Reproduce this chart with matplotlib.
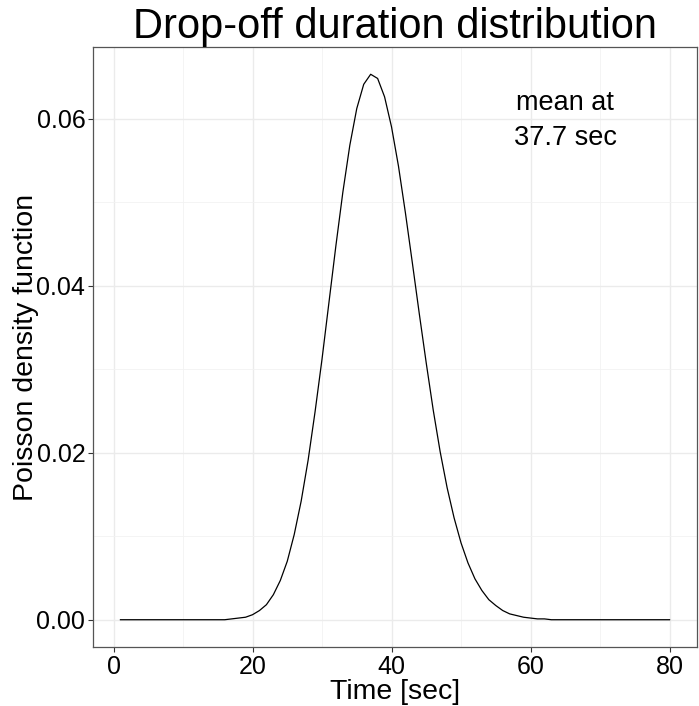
import numpy as np
import matplotlib
matplotlib.use('Agg')
import matplotlib.pyplot as plt
from matplotlib.ticker import MultipleLocator

# values, one per second
time_sec = list(range(1, 81))
density = [
    0.0, 0.0, 0.0, 0.0, 0.0, 0.0, 0.0, 0.0, 0.0, 0.0,
    0.0, 0.0, 0.0, 0.0, 0.0, 0.0, 0.0001, 0.0002, 0.0003, 0.0006,
    0.0011, 0.0018, 0.0030, 0.0047, 0.0070, 0.0102, 0.0142, 0.0191, 0.0249, 0.0312,
    0.0380, 0.0448, 0.0512, 0.0568, 0.0612, 0.0641, 0.0653, 0.0648, 0.0626, 0.0590,
    0.0543, 0.0487, 0.0427, 0.0366, 0.0307, 0.0251, 0.0201, 0.0158, 0.0122, 0.0092,
    0.0068, 0.0049, 0.0035, 0.0024, 0.0017, 0.0011, 0.0007, 0.0005, 0.0003, 0.0002,
    0.0001, 0.0001, 0.0, 0.0, 0.0, 0.0, 0.0, 0.0, 0.0, 0.0,
    0.0, 0.0, 0.0, 0.0, 0.0, 0.0, 0.0, 0.0, 0.0, 0.0,
]
x_ticks = [0, 20, 40, 60, 80]
y_ticks = [0.00, 0.02, 0.04, 0.06]
note = "mean at\n37.7 sec"

plt.rcParams['font.family'] = ['Liberation Sans', 'DejaVu Sans']

fig = plt.figure(figsize=(6.99, 7.06), dpi=100)
ax = fig.add_axes([93 / 699, 1 - 647 / 706, (697 - 93) / 699, (647 - 47) / 706])

ax.plot(time_sec, density, color='black', linewidth=0.9)

# ggplot-style expansion
xr = max(time_sec) - min(time_sec)
ax.set_xlim(min(time_sec) - 0.05 * xr, max(time_sec) + 0.05 * xr)
yr = max(density) - min(density)
ax.set_ylim(min(density) - 0.05 * yr, max(density) + 0.05 * yr)

ax.set_xticks(x_ticks)
ax.set_yticks(y_ticks)
ax.set_yticklabels([f"{v:.2f}" for v in y_ticks])
ax.xaxis.set_minor_locator(MultipleLocator(10))
ax.yaxis.set_minor_locator(MultipleLocator(0.01))

ax.grid(which='major', color='#EBEBEB', linewidth=1.0)
ax.grid(which='minor', color='#F2F2F2', linewidth=0.6)
ax.set_axisbelow(True)
ax.tick_params(which='minor', length=0)
ax.tick_params(which='major', length=3.5, width=0.8, color='#333333',
               labelsize=18, labelcolor='black', pad=2)
for s in ax.spines.values():
    s.set_color('#555555')
    s.set_linewidth(0.9)

ax.set_xlabel("Time [sec]", fontsize=20.5, labelpad=0)
ax.set_ylabel("Poisson density function", fontsize=20.5, labelpad=-2)
ax.set_title("Drop-off duration distribution", fontsize=30, pad=5)

ax.text(65, 0.0598, note, ha='center', va='center', fontsize=19.5, linespacing=1.45)

fig.savefig('out.png', dpi=100, facecolor='white')
